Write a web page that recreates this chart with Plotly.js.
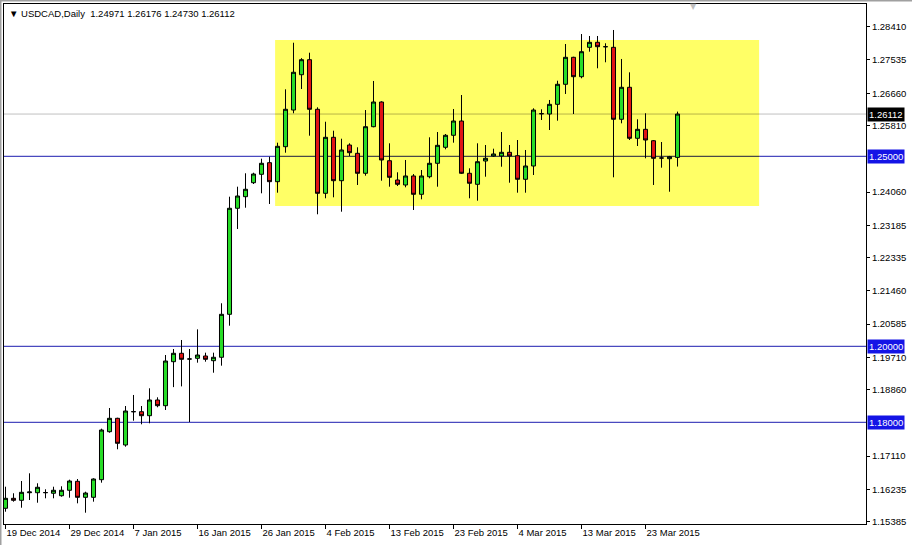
<!DOCTYPE html>
<html><head><meta charset="utf-8">
<script src="https://cdn.plot.ly/plotly-3.0.1.min.js"></script>
<style>html,body{margin:0;padding:0;background:#fff;overflow:hidden;} #chart{width:912px;height:545px;}</style>
</head><body><div id="chart"></div>
<script>
// Daily bars (broker feed includes Sunday sessions)
const dates = [
'2014-12-19','2014-12-21','2014-12-22','2014-12-23','2014-12-24','2014-12-25','2014-12-26','2014-12-28',
'2014-12-29','2014-12-30','2014-12-31','2015-01-01','2015-01-02','2015-01-04','2015-01-05','2015-01-06',
'2015-01-07','2015-01-08','2015-01-09','2015-01-11','2015-01-12','2015-01-13','2015-01-14','2015-01-15',
'2015-01-16','2015-01-18','2015-01-19','2015-01-20','2015-01-21','2015-01-22','2015-01-23','2015-01-25',
'2015-01-26','2015-01-27','2015-01-28','2015-01-29','2015-01-30','2015-02-01','2015-02-02','2015-02-03',
'2015-02-04','2015-02-05','2015-02-06','2015-02-08','2015-02-09','2015-02-10','2015-02-11','2015-02-12',
'2015-02-13','2015-02-15','2015-02-16','2015-02-17','2015-02-18','2015-02-19','2015-02-20','2015-02-22',
'2015-02-23','2015-02-24','2015-02-25','2015-02-26','2015-02-27','2015-03-01','2015-03-02','2015-03-03',
'2015-03-04','2015-03-05','2015-03-06','2015-03-08','2015-03-09','2015-03-10','2015-03-11','2015-03-12',
'2015-03-13','2015-03-15','2015-03-16','2015-03-17','2015-03-18','2015-03-19','2015-03-20','2015-03-22',
'2015-03-23','2015-03-24','2015-03-25','2015-03-26','2015-03-27'];

const opens = [
1.15737,1.16000,1.15947,1.16147,1.16147,1.16150,1.16132,1.16068,
1.16211,1.16447,1.16026,1.16026,1.16490,1.17753,1.18105,1.17403,
1.18280,1.18279,1.18174,1.18587,1.18437,1.19595,1.19816,1.19666,
1.19684,1.19745,1.19621,1.19711,1.20842,1.23632,1.23937,1.24305,
1.24526,1.24832,1.24332,1.25253,1.26218,1.27147,1.27542,1.26237,
1.24026,1.25500,1.24358,1.25297,1.25079,1.24553,1.25779,1.26429,
1.24884,1.24376,1.24245,1.24482,1.24000,1.24463,1.24816,1.25237,
1.25553,1.25929,1.24553,1.24263,1.24876,1.25008,1.25008,1.25105,
1.25016,1.24395,1.24745,1.26121,1.26113,1.26368,1.26895,1.27605,
1.27095,1.27868,1.28000,1.27884,1.27868,1.25974,1.26816,1.25474,
1.25710,1.25410,1.24955,1.24937,1.24971];

const highs = [
1.16305,1.16132,1.16455,1.16658,1.16395,1.16237,1.16305,1.16316,
1.16490,1.16508,1.16174,1.16526,1.17832,1.18376,1.18120,1.18429,
1.18719,1.18429,1.18895,1.18658,1.19771,1.19929,1.20166,1.19929,
1.20446,1.19832,1.19832,1.21132,1.23937,1.24200,1.24553,1.24568,
1.24937,1.24989,1.25358,1.26763,1.27989,1.27584,1.27726,1.26289,
1.25910,1.25674,1.25463,1.25342,1.25237,1.26218,1.26982,1.26447,
1.25342,1.24579,1.24903,1.24532,1.24639,1.25500,1.25639,1.25587,
1.26245,1.26613,1.24684,1.25342,1.25297,1.25200,1.25639,1.25297,
1.25429,1.25166,1.26263,1.26237,1.26482,1.26989,1.27955,1.27620,
1.28218,1.28166,1.28166,1.27974,1.28324,1.27561,1.27210,1.25974,
1.26132,1.25429,1.25376,1.25010,1.26176];

const lows = [
1.15647,1.15911,1.15752,1.15955,1.15884,1.16000,1.16000,1.16042,
1.16016,1.15868,1.15621,1.15911,1.16411,1.17726,1.17290,1.17358,
1.18042,1.17947,1.17974,1.18395,1.18324,1.18926,1.18945,1.18008,
1.19569,1.19595,1.19305,1.19490,1.20542,1.23087,1.23647,1.24271,
1.24026,1.23745,1.24042,1.25095,1.26132,1.26771,1.25542,1.23474,
1.23895,1.23921,1.23542,1.25008,1.24245,1.24490,1.25763,1.24358,
1.24200,1.24218,1.24184,1.23587,1.23868,1.24421,1.24200,1.25184,
1.25358,1.24534,1.23895,1.23832,1.24463,1.24990,1.24726,1.24305,
1.24042,1.24042,1.24508,1.25955,1.25692,1.25937,1.26640,1.26113,
1.27053,1.27753,1.27316,1.27474,1.24447,1.25868,1.25429,1.25271,
1.24947,1.24245,1.24700,1.24068,1.24730];

const closes = [
1.16000,1.15947,1.16158,1.16166,1.16290,1.16150,1.16211,1.16211,
1.16455,1.16026,1.16139,1.16508,1.17797,1.18105,1.17447,1.18297,
1.18280,1.18174,1.18587,1.18437,1.19613,1.19816,1.19658,1.19666,
1.19771,1.19658,1.19711,1.20842,1.23632,1.23955,1.24132,1.24534,
1.24816,1.24332,1.25263,1.26237,1.27211,1.27542,1.26237,1.24026,
1.25500,1.24358,1.25166,1.25095,1.24553,1.25779,1.26429,1.24903,
1.24447,1.24263,1.24482,1.24000,1.24482,1.24816,1.25289,1.25553,
1.25929,1.24553,1.24290,1.24858,1.24947,1.25061,1.25105,1.25008,
1.24395,1.24745,1.26218,1.26121,1.26368,1.26895,1.27605,1.27095,
1.27753,1.28000,1.27884,1.27884,1.25974,1.26816,1.25474,1.25710,
1.25429,1.24947,1.24955,1.24990,1.26112];

const tickDates = ['2014-12-19','2014-12-29','2015-01-07','2015-01-16','2015-01-26','2015-02-04',
  '2015-02-13','2015-02-23','2015-03-04','2015-03-13','2015-03-23'];
const tickLabels = ['19 Dec 2014','29 Dec 2014','7 Jan 2015','16 Jan 2015','26 Jan 2015','4 Feb 2015',
  '13 Feb 2015','23 Feb 2015','4 Mar 2015','13 Mar 2015','23 Mar 2015'];

const priceTicks = [1.28410,1.27535,1.26660,1.25810,1.24060,1.23185,1.22335,1.21460,1.20585,
  1.19710,1.18860,1.17110,1.16235,1.15385];

const levelLines = [1.25000, 1.20000, 1.18000];

// consolidation box (bar positions, price bounds)
const boxFromBar = 33.7, boxToBar = 94.2;
const boxLow = 1.23692, boxHigh = 1.28061;

const symbol = 'USDCAD,Daily';

const n = closes.length;
const lastPrice = closes[n-1];
const f5 = v => v.toFixed(5);
const FONT = 'Liberation Sans, Arial, sans-serif';

const trace = {
  type: 'candlestick',
  x: dates, open: opens, high: highs, low: lows, close: closes,
  increasing: {fillcolor: '#27dc27', line: {color: '#000000', width: 1}},
  decreasing: {fillcolor: '#e01414', line: {color: '#000000', width: 1}},
  whiskerwidth: 0,
  hoverinfo: 'none',
  showlegend: false
};

const shapes = [];
shapes.push({type:'rect', xref:'x', yref:'y', x0: boxFromBar, x1: boxToBar, y0: boxLow, y1: boxHigh,
  fillcolor:'#ffff66', line:{width:0}, layer:'below'});
shapes.push({type:'line', xref:'paper', yref:'y', x0:0, x1:1, y0:lastPrice, y1:lastPrice,
  line:{color:'#c0c0c0', width:1}, layer:'below'});
levelLines.forEach(v => shapes.push({type:'line', xref:'paper', yref:'y', x0:0, x1:1, y0:v, y1:v,
  line:{color:'#1c1cb0', width:1}, layer:'below'}));
// segments seen through the box (blended colours)
shapes.push({type:'line', xref:'x', yref:'y', x0:boxFromBar, x1:boxToBar, y0:lastPrice, y1:lastPrice,
  line:{color:'#b8b448', width:1}, layer:'below'});
levelLines.filter(v => v > boxLow && v < boxHigh).forEach(v => shapes.push({type:'line', xref:'x', yref:'y',
  x0:boxFromBar, x1:boxToBar, y0:v, y1:v, line:{color:'#1c1c40', width:1}, layer:'below'}));
// window edge
shapes.push({type:'line', xref:'paper', yref:'paper', x0:-4/862, x1:908/862, y0:1+3.5/520, y1:1+3.5/520,
  line:{color:'#a0a0a0', width:2}});
shapes.push({type:'line', xref:'paper', yref:'paper', x0:-3.5/862, x1:-3.5/862, y0:-21/520, y1:1+4/520,
  line:{color:'#a0a0a0', width:2}});

const annotations = [];
annotations.push({xref:'paper', yref:'paper', x:3/862, y:1-9/520, xanchor:'left', yanchor:'middle',
  text: '\u25BC ' + symbol + '  ' + [opens[n-1], highs[n-1], lows[n-1], closes[n-1]].map(f5).join(' '),
  showarrow:false, font:{family:FONT, size:9.5, color:'#000'}});
annotations.push({xref:'paper', yref:'paper', x:689/862, y:1-3/520, xanchor:'center', yanchor:'middle',
  text:'\u25BC', showarrow:false, font:{family:'DejaVu Sans', size:8, color:'#c0c0c0'}});
levelLines.forEach(v => annotations.push({xref:'paper', yref:'y', x:1, y:v, xanchor:'left', yanchor:'middle',
  xshift:1, text:f5(v), showarrow:false, bgcolor:'#1414e6', borderpad:1,
  font:{family:FONT, size:9.5, color:'#ffffff'}}));
annotations.push({xref:'paper', yref:'y', x:1, y:lastPrice, xanchor:'left', yanchor:'middle',
  xshift:1, text:f5(lastPrice), showarrow:false, bgcolor:'#000000', borderpad:1,
  font:{family:FONT, size:9.5, color:'#ffffff'}});

const layout = {
  width: 912, height: 545,
  margin: {l:4, r:46, t:4, b:21, pad:0},
  paper_bgcolor: '#ffffff', plot_bgcolor: '#ffffff',
  showlegend: false,
  boxgap: 0.28,
  font: {family: FONT, size: 9.5, color: '#000'},
  xaxis: {
    type: 'category',
    range: [-0.1875, 107.56],
    rangeslider: {visible: false},
    tickmode: 'array', tickvals: tickDates, ticktext: tickLabels,
    ticks: 'outside', ticklen: 4, tickcolor: '#000', tickwidth: 1,
    ticklabelposition: 'outside right',
    showgrid: false, zeroline: false,
    showline: true, linecolor: '#000', linewidth: 1, mirror: true,
    tickfont: {family: FONT, size: 9.5, color: '#000'},
    fixedrange: true
  },
  yaxis: {
    side: 'right',
    range: [1.153237, 1.290079],
    tickmode: 'array', tickvals: priceTicks, ticktext: priceTicks.map(f5),
    ticks: 'outside', ticklen: 3, tickcolor: '#000', tickwidth: 1,
    showgrid: false, zeroline: false,
    showline: true, linecolor: '#000', linewidth: 1, mirror: true,
    tickfont: {family: FONT, size: 9.5, color: '#000'},
    fixedrange: true
  },
  shapes: shapes,
  annotations: annotations,
  hovermode: false
};

Plotly.newPlot('chart', [trace], layout, {displayModeBar: false, staticPlot: true});
</script>
</body></html>
